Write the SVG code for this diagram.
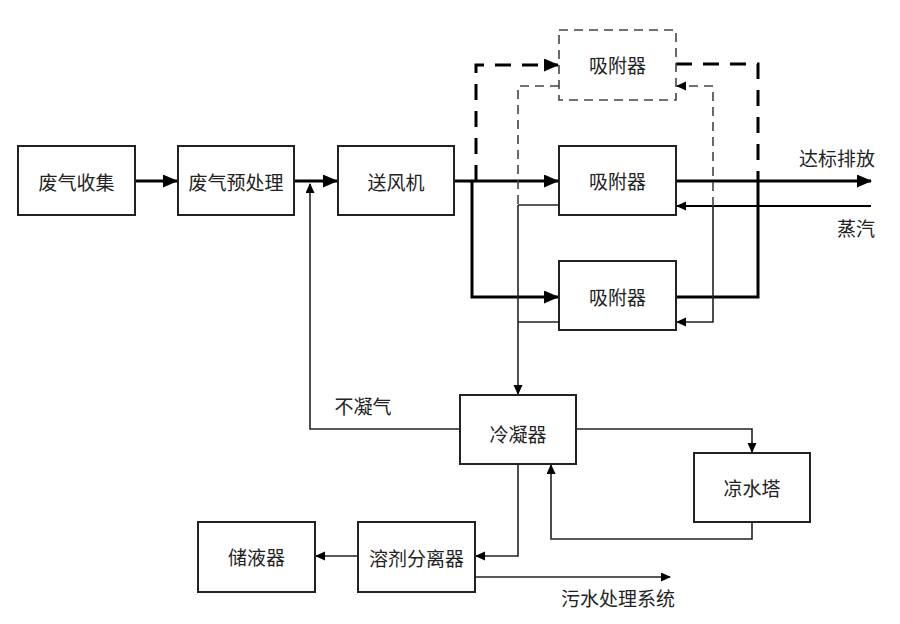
<svg xmlns="http://www.w3.org/2000/svg" width="900" height="624" viewBox="0 0 900 624">
<defs>
<marker id="ah" markerUnits="userSpaceOnUse" markerWidth="16" markerHeight="14" refX="14" refY="6.5" orient="auto"><path d="M0,0 L15,6.5 L0,13 z" fill="#000"/></marker>
<marker id="as" markerUnits="userSpaceOnUse" markerWidth="10" markerHeight="10" refX="9" refY="4.5" orient="auto"><path d="M0,0 L10,4.5 L0,9 z" fill="#000"/></marker>
<style>
.box{fill:#fff;stroke:#222;stroke-width:2}
.dbox{fill:#fff;stroke:#444;stroke-width:1.6;stroke-dasharray:9 6}
.t{font-family:"Noto Sans CJK SC","Noto Sans",sans-serif;font-size:19px;fill:#222;text-anchor:middle;dominant-baseline:central}
.thick{fill:none;stroke:#000;stroke-width:3}
.thin{fill:none;stroke:#222;stroke-width:1.6}
.mid{fill:none;stroke:#000;stroke-width:2.2}
.tdash{fill:none;stroke:#000;stroke-width:3;stroke-dasharray:16 11}
.ndash{fill:none;stroke:#444;stroke-width:1.6;stroke-dasharray:9 6}
</style>
</defs>
<rect width="900" height="624" fill="#fff"/>
<g id="connectors">
<path class="thick" d="M135,181 H177" marker-end="url(#ah)"/>
<path class="thick" d="M294,181 H337" marker-end="url(#ah)"/>
<path class="thick" d="M454,181 H558" marker-end="url(#ah)"/>
<path class="thick" d="M472,181 V297 H558" marker-end="url(#ah)"/>
<path class="thick" d="M676,181 H871" marker-end="url(#ah)"/>
<path class="thick" d="M676,297 H758 V181"/>
<path class="tdash" d="M476,181 V65 H558" marker-end="url(#ah)"/>
<path class="tdash" d="M676,64 H758 V181"/>
<path class="mid" d="M871,206 H677" marker-end="url(#as)"/>
<path class="thin" d="M713,206 V322 H677" marker-end="url(#as)"/>
<path class="ndash" d="M713,206 V86 H677" marker-end="url(#as)"/>
<path class="thin" d="M559,205 H518"/>
<path class="thin" d="M559,322 H518"/>
<path class="thin" d="M518,205 V394" marker-end="url(#as)"/>
<path class="ndash" d="M559,86 H518 V205"/>
<path class="thin" d="M460,429 H310 V184" marker-end="url(#as)"/>
<path class="thin" d="M576,429 H752 V452" marker-end="url(#as)"/>
<path class="thin" d="M752,522 V539 H551 V465" marker-end="url(#as)"/>
<path class="thin" d="M518,464 V556 H476" marker-end="url(#as)"/>
<path class="thin" d="M358,556 H316" marker-end="url(#as)"/>
<path class="thin" d="M475,577 H670" marker-end="url(#as)"/>
</g>
<g id="n1"><rect class="box" x="18" y="146" width="117" height="69"/><text class="t" x="76.5" y="181">废气收集</text></g>
<g id="n2"><rect class="box" x="178" y="146" width="116" height="69"/><text class="t" x="236" y="181">废气预处理</text></g>
<g id="n3"><rect class="box" x="338" y="146" width="116" height="69"/><text class="t" x="396" y="181">送风机</text></g>
<g id="n4"><rect class="dbox" x="559" y="30" width="117" height="70"/><text class="t" x="617.5" y="64">吸附器</text></g>
<g id="n5"><rect class="box" x="559" y="146" width="117" height="69"/><text class="t" x="617.5" y="180">吸附器</text></g>
<g id="n6"><rect class="box" x="559" y="261" width="117" height="69"/><text class="t" x="617.5" y="296">吸附器</text></g>
<g id="n7"><rect class="box" x="460" y="395" width="116" height="69"/><text class="t" x="518" y="433">冷凝器</text></g>
<g id="n8"><rect class="box" x="694" y="453" width="116" height="69"/><text class="t" x="752" y="487">凉水塔</text></g>
<g id="n9"><rect class="box" x="358" y="522" width="117" height="70"/><text class="t" x="416.5" y="557">溶剂分离器</text></g>
<g id="n10"><rect class="box" x="198" y="522" width="117" height="70"/><text class="t" x="256.5" y="556">储液器</text></g>
<g id="labels">
<text class="t" x="837" y="157">达标排放</text>
<text class="t" x="856" y="227">蒸汽</text>
<text class="t" x="363" y="405">不凝气</text>
<text class="t" x="618" y="597">污水处理系统</text>
</g>
</svg>
